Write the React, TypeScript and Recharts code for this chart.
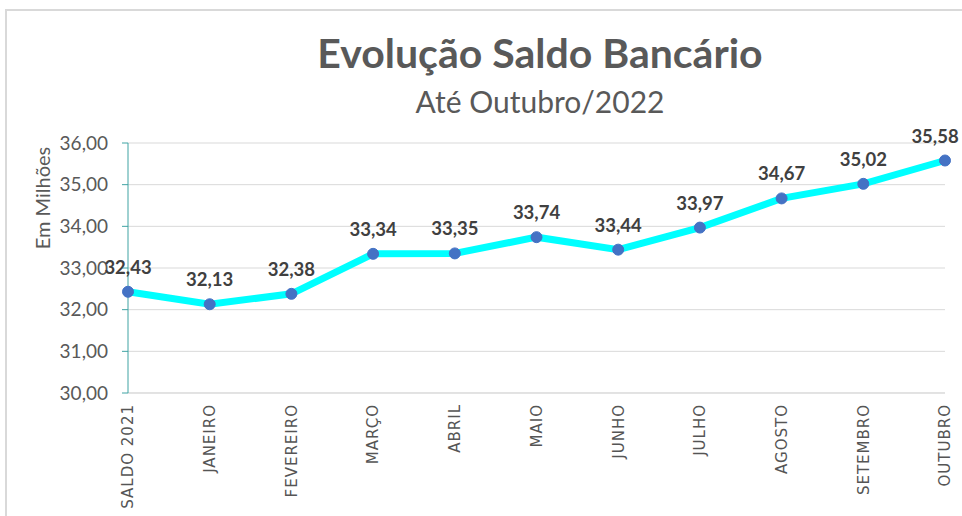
import React from 'react';
import {
  LineChart,
  Line,
  XAxis,
  YAxis,
  CartesianGrid,
  LabelList,
} from 'recharts';

const categories = [
  'SALDO 2021',
  'JANEIRO',
  'FEVEREIRO',
  'MARÇO',
  'ABRIL',
  'MAIO',
  'JUNHO',
  'JULHO',
  'AGOSTO',
  'SETEMBRO',
  'OUTUBRO',
];
const saldo = [32.43, 32.13, 32.38, 33.34, 33.35, 33.74, 33.44, 33.97, 34.67, 35.02, 35.58];
const yTicks = [30, 31, 32, 33, 34, 35, 36];

const data = categories.map((name, i) => ({ name, saldo: saldo[i] }));

const fmt = (v: number) => Number(v).toFixed(2).replace('.', ',');

const XTick = (props: any) => {
  const { x, y, payload } = props;
  return (
    <text
      x={x}
      y={y}
      transform={`rotate(-90, ${x}, ${y})`}
      textAnchor="end"
      dy="0.36em"
      fill="#555555"
      fontFamily="DejaVu Sans"
      fontSize={15}
      letterSpacing={1}
    >
      {payload.value}
    </text>
  );
};

// valor acima do ponto; o último é puxado para dentro como no Excel
const ValueLabel = (props: any) => {
  const { x, y, width, value, index } = props;
  const last = index === saldo.length - 1;
  const cx = x + (width || 0) / 2 - (last ? 10 : 0);
  return (
    <text
      x={cx}
      y={y - 18}
      textAnchor="middle"
      fill="#404040"
      fontFamily="Lato"
      fontWeight={700}
      fontSize={18.5}
    >
      {fmt(value)}
    </text>
  );
};

export default function App() {
  return (
    <div
      style={{
        position: 'absolute',
        left: 0,
        top: 0,
        width: 962,
        height: 516,
        overflow: 'hidden',
        background: '#fff',
      }}
    >
      <div
        style={{
          position: 'absolute',
          left: 5,
          top: 9,
          width: 1000,
          height: 600,
          border: '2px solid #d9d9d9',
        }}
      />
      <div
        style={{
          position: 'absolute',
          left: 0,
          width: 1080,
          top: 28,
          textAlign: 'center',
          fontFamily: 'Lato',
          fontWeight: 700,
          fontSize: 41,
          color: '#595959',
          lineHeight: '50px',
        }}
      >
        Evolução Saldo Bancário
      </div>
      <div
        style={{
          position: 'absolute',
          left: 0,
          width: 1080,
          top: 81,
          textAlign: 'center',
          fontFamily: 'Lato',
          fontSize: 30,
          color: '#595959',
          lineHeight: '40px',
        }}
      >
        Até Outubro/2022
      </div>
      <div
        style={{
          position: 'absolute',
          left: 42,
          top: 198,
          transform: 'translate(-50%, -50%) rotate(-90deg)',
          fontFamily: 'Lato',
          fontSize: 20,
          color: '#595959',
          whiteSpace: 'nowrap',
        }}
      >
        Em Milhões
      </div>
      <div style={{ position: 'absolute', left: 0, top: 0 }}>
        <LineChart
          width={962}
          height={516}
          data={data}
          margin={{ top: 143, right: 17, left: 68, bottom: 0 }}
        >
          <CartesianGrid vertical={false} stroke="#d9d9d9" />
          <XAxis
            dataKey="name"
            height={123}
            axisLine={{ stroke: '#d9d9d9' }}
            tickLine={false}
            tickSize={0}
            tickMargin={11}
            interval={0}
            tick={<XTick />}
          />
          <YAxis
            width={60}
            domain={[30, 36]}
            ticks={yTicks}
            tickFormatter={fmt}
            axisLine={{ stroke: '#3fa3a3' }}
            tickLine={{ stroke: '#3fa3a3' }}
            tickSize={6}
            tickMargin={14}
            tick={{ fill: '#595959', fontFamily: 'Lato', fontSize: 19 }}
          />
          <Line
            type="linear"
            dataKey="saldo"
            stroke="#00ffff"
            strokeWidth={7}
            dot={{ r: 5.5, fill: '#4472c4', stroke: '#4472c4', strokeWidth: 1 }}
            activeDot={false}
            isAnimationActive={false}
          >
            <LabelList dataKey="saldo" content={<ValueLabel />} />
          </Line>
        </LineChart>
      </div>
    </div>
  );
}
